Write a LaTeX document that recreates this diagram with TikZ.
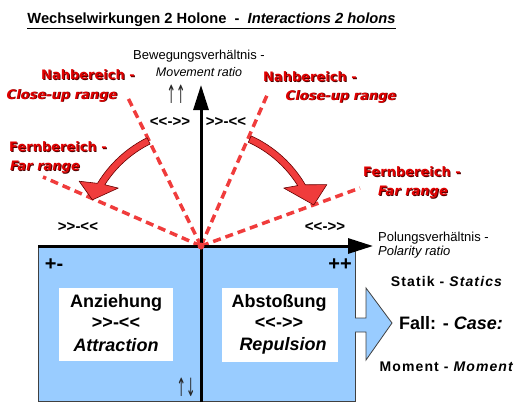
\documentclass[tikz,border=0pt]{standalone}
\usepackage{fontspec}
\setmainfont{Liberation Sans}
\newfontfamily\redfont{DejaVu Sans}
\usetikzlibrary{arrows.meta,calc}
\definecolor{boxblue}{HTML}{99CCFF}
\definecolor{rangered}{HTML}{F03C3C}
\definecolor{labelred}{HTML}{E00000}
\definecolor{shadowred}{HTML}{500000}
\definecolor{arrowred}{HTML}{F03C3C}
\newcommand{\shadowtxt}[1]{\rlap{\kern0.9pt\raisebox{-0.9pt}{\color{shadowred}#1}}#1}
\newcommand{\attrsign}{>{}>{}-{}<{}<}
\newcommand{\repsign}{<{}<{}-{}>{}>}
\begin{document}
\begin{tikzpicture}[x=1pt,y=1pt,
  every node/.style={inner sep=0pt},
  axisline/.style={line width=3pt},
  rangeline/.style={rangered, line width=3.5pt, dash pattern=on 8pt off 5pt},
  redlbl/.style={text=labelred, font=\redfont\bfseries\fontsize{13}{15}\selectfont},
  smalllbl/.style={font=\fontsize{13}{15}\selectfont},
  signlbl/.style={font=\bfseries\fontsize{15}{17}\selectfont},
  boxlbl/.style={font=\bfseries\fontsize{18}{20}\selectfont},
  sidelbl/.style={font=\bfseries\fontsize{14}{16}\selectfont\addfontfeature{LetterSpace=8}},
  pmlbl/.style={font=\bfseries\fontsize{20}{22}\selectfont},
  arrowlbl/.style={font=\redfont\fontsize{14}{16}\selectfont, text=black!85},
  curvearrow/.style={fill=arrowred, draw=black!60!red, line width=0.6pt, line join=round},
  hollow/.style={draw=black!75, line width=0.8pt}
]
\useasboundingbox (0,0) rectangle (529,416);

% title
\node[font=\bfseries\fontsize{14.7}{17}\selectfont] (title) at (211.5,395)
  {\underline{Wechselwirkungen 2 Holone~~-~~\textit{Interactions 2 holons}}};

% coordinates
\coordinate (O) at (201,170);
\coordinate (ytop) at (201,331);
\coordinate (ybot) at (201,14);
\coordinate (xl) at (38,170);
\coordinate (xr) at (373,170);

% blue box
\node[hollow, fill=boxblue, anchor=south west, minimum width=317, minimum height=156] (box) at (38,14) {};
% block arrow to the right
\draw[hollow, fill=boxblue] (355,98) -- (366,98) -- (366,128) -- (392,93) -- (366,56) -- (366,84) -- (355,84);

% white boxes
\node[fill=white, anchor=south west, minimum width=114, minimum height=73] (wl) at (59,55) {};
\node[fill=white, anchor=south west, minimum width=116, minimum height=74] (wr) at (222,54) {};

% dashed range lines
\coordinate (lf) at (43,239);
\coordinate (lc) at (128,318);
\coordinate (rc) at (268,323);
\coordinate (rf) at (360,228);
\draw[rangeline] (O) -- (lf);
\draw[rangeline] (O) -- (lc);
\draw[rangeline] (O) -- (rc);
\draw[rangeline] (O) -- (rf);

% axes
\draw[axisline, -{Triangle[length=25pt,width=15pt]}] (ybot) -- (ytop);
\draw[axisline, -{Triangle[length=25pt,width=15pt]}] (xl) -- (xr);
\fill[rangered] (O) circle (3.5);

% curved arrows
\begin{scope}[shift={(O)}]
\path[curvearrow] (116.5:121) arc[start angle=116.5, end angle=148.8, radius=121]
  -- (152:138) -- (157:118) -- (145:101) -- (147.5:114)
  arc[start angle=147.5, end angle=116.5, radius=114] -- cycle;
\path[curvearrow] (65.5:121) arc[start angle=65.5, end angle=30.4, radius=121]
  -- (26:140) -- (20:120) -- (35:101) -- (32:114)
  arc[start angle=32, end angle=65.5, radius=114] -- cycle;
\end{scope}

% axis labels
\node[smalllbl] (bew) at (199,360) {Bewegungsverhältnis -};
\node[smalllbl, font=\itshape\fontsize{12.5}{15}\selectfont] (mov) at (199,344) {Movement ratio};
\node[arrowlbl] (upup) at (176,322) {\scalebox{0.8}[1.8]{↑↑}};
\node[smalllbl, anchor=west] (pol) at (378,178) {Polungsverhältnis -};
\node[smalllbl, anchor=west, font=\itshape\fontsize{13}{15}\selectfont] (polr) at (378,164) {Polarity ratio};

% sign labels
\node[signlbl] (s1) at (170,294) {\repsign};
\node[signlbl] (s2) at (226,294) {\attrsign};
\node[signlbl] (s3) at (78,189) {\attrsign};
\node[signlbl] (s4) at (325,189) {\repsign};

% red range labels
\node[redlbl] (nl1) at (88,341) {\shadowtxt{Nahbereich -}};
\node[redlbl] (nl2) at (62,320) {\shadowtxt{\itshape Close-up range}};
\node[redlbl] (fl1) at (58,269) {\shadowtxt{Fernbereich -}};
\node[redlbl] (fl2) at (45,248) {\shadowtxt{\itshape Far range}};
\node[redlbl] (nr1) at (310,339) {\shadowtxt{Nahbereich -}};
\node[redlbl] (nr2) at (341,319) {\shadowtxt{\itshape Close-up range}};
\node[redlbl] (fr1) at (412,244) {\shadowtxt{Fernbereich -}};
\node[redlbl] (fr2) at (413,223) {\shadowtxt{\itshape Far range}};

% box contents
\node[pmlbl] (pm) at (54,151) {+-};
\node[pmlbl] (pp) at (340,151) {++};
\node[boxlbl] (anz) at (116,113) {Anziehung};
\node[boxlbl] (anzs) at (116,93) {\attrsign};
\node[boxlbl, font=\bfseries\itshape\fontsize{18}{20}\selectfont] (att) at (116,71) {Attraction};
\node[boxlbl] (abs) at (279,113) {Abstoßung};
\node[boxlbl] (abss) at (279,93) {\repsign};
\node[boxlbl, font=\bfseries\itshape\fontsize{18}{20}\selectfont] (rep) at (283,70) {Repulsion};
\node[arrowlbl] (updown) at (186,29) {\scalebox{0.8}[1.8]{↑↓}};

% right side texts
\node[sidelbl] (stat) at (447,135) {Statik - \textit{Statics}};
\node[boxlbl] (fall) at (451,93) {Fall: - \textit{Case:}};
\node[sidelbl] (mom) at (447,49) {Moment - \textit{Moment}};
\end{tikzpicture}
\end{document}
